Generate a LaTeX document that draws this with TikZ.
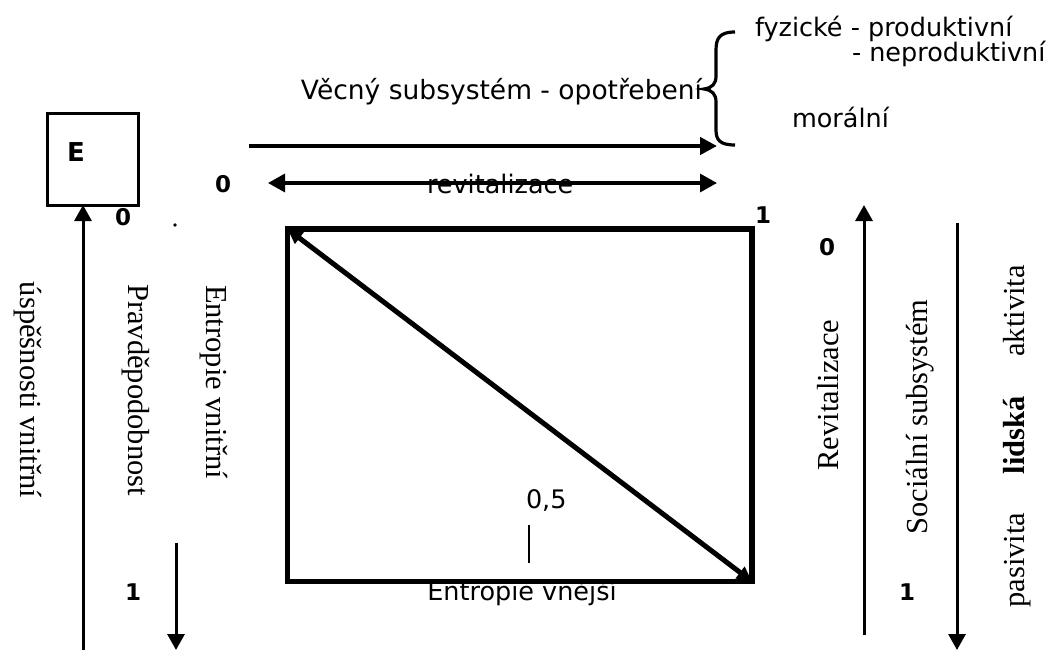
\documentclass[tikz,border=0pt]{standalone}
\usepackage{fontspec}
\setmainfont{Liberation Serif}
\newfontfamily\dvs{DejaVu Sans}
\usetikzlibrary{arrows.meta}
\begin{document}
\begin{tikzpicture}[x=1pt,y=-1pt,
  every node/.style={inner sep=0pt,outer sep=0pt},
  sanslbl/.style={font=\dvs\fontsize{25.5}{30}\selectfont, anchor=base west},
  serifv/.style={font=\fontsize{30.5}{36}\selectfont, anchor=base},
  numlbl/.style={font=\dvs\bfseries\fontsize{23}{27}\selectfont},
  thinarr/.style={line width=3pt, -{Triangle[length=16pt,width=17pt]}},
  thickarr/.style={line width=4.5pt, -{Triangle[length=17pt,width=17pt]}},
  revarr/.style={line width=3.3pt, {Triangle[length=17pt,width=18pt]}-{Triangle[length=17pt,width=18pt]}},
  diagarr/.style={line width=5pt, {Triangle[length=15pt,width=14pt]}-{Triangle[length=15pt,width=14pt]}},
  boxstyle/.style={draw, line width=3pt, minimum width=91pt, minimum height=91pt},
  rectstyle/.style={draw, line width=5.5pt, minimum width=464.5pt, minimum height=352.5pt}
]
\useasboundingbox (0,0) rectangle (1059,650);

% E box
\node[boxstyle] (ebox) at (92.5,159.5) {};
\node[font=\dvs\bfseries\fontsize{26}{30}\selectfont] (elbl) at (76,152) {E};
\coordinate (upL) at (83,650);
\draw[thinarr] (upL) -- (upL |- ebox.south);
\node[numlbl] (n0a) at (123,217) {0};
\fill (175,225) circle (1.8pt);

% left vertical texts
\node[serifv, rotate=-90] (usp) at (20,390) {úspěšnosti vnitřní};
\node[serifv, rotate=-90] (prav) at (128,390) {Pravděpodobnost};
\node[serifv, rotate=-90] (entv) at (206,382) {Entropie vnitřní};
\coordinate (dnLa) at (176,543);
\coordinate (dnLb) at (176,650);
\draw[thinarr] (dnLa) -- (dnLb);
\node[numlbl] (n1a) at (133,592) {1};

% top
\node[sanslbl, anchor=base east, font=\dvs\fontsize{26.5}{30}\selectfont] (vec) at (702,100) {Věcný subsystém - opotřebení};
\node[sanslbl] (fyz) at (755,37) {fyzické - produktivní};
\node[sanslbl] (nep) at (852,62) {- neproduktivní};
\node[sanslbl] (mor) at (792,128) {morální};
\draw[line width=3.2pt] (735,32) .. controls (720,32) and (716,38) .. (716,50)
  -- (716,76) .. controls (716,84) and (712,88) .. (704,89)
  .. controls (712,90) and (716,94) .. (716,102)
  -- (716,130) .. controls (716,140) and (720,145) .. (735,145);
\coordinate (va) at (249,146);
\coordinate (vb) at (717,146);
\draw[thickarr] (va) -- (vb);

\node[numlbl] (n0b) at (223,184) {0};
\node[sanslbl] (rev) at (427,193) {revitalizace};
\coordinate (ra) at (268,183);
\coordinate (rb) at (717,183);
\draw[revarr] (ra) -- (rb);

% central rectangle
\node[sanslbl, anchor=base] (entx) at (522,600) {Entropie vnější};
\node[sanslbl] (half) at (526,508) {0,5};
\coordinate (ta) at (529,525);
\coordinate (tb) at (529,563);
\draw[line width=2.8pt] (ta) -- (tb);
\node[rectstyle] (rect) at (519.75,405.25) {};
\draw[diagarr] (rect.north west) -- (rect.south east);
\node[numlbl] (n1b) at (763,215) {1};

% right side
\node[numlbl] (n0c) at (827,247) {0};
\node[serifv, rotate=90] (revv) at (838,395) {Revitalizace};
\coordinate (rua) at (864,635);
\coordinate (rub) at (864,205);
\draw[thinarr] (rua) -- (rub);
\node[serifv, rotate=90] (soc) at (927,417) {Sociální subsystém};
\coordinate (rda) at (957,223);
\coordinate (rdb) at (957,650);
\draw[thinarr] (rda) -- (rdb);
\node[numlbl] (n1c) at (907,592) {1};
\node[serifv, rotate=90] (akt) at (1024,311) {aktivita};
\node[serifv, rotate=90, font=\bfseries\fontsize{30.5}{36}\selectfont] (lid) at (1024,435) {lidská};
\node[serifv, rotate=90] (pas) at (1024,560) {pasivita};
\end{tikzpicture}
\end{document}
